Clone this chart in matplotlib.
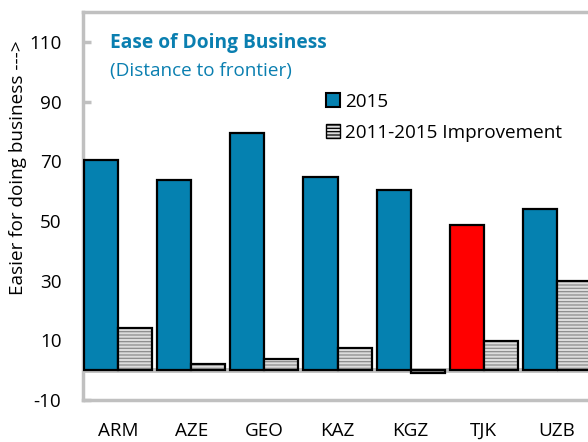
import matplotlib
matplotlib.use("Agg")
import matplotlib.pyplot as plt
import numpy as np
from matplotlib.patches import Patch

categories = ["ARM", "AZE", "GEO", "KAZ", "KGZ", "TJK", "UZB"]
score_2015 = [70.5, 63.8, 79.5, 64.7, 60.5, 48.7, 54.1]
improvement = [14.1, 2.1, 3.6, 7.5, -0.9, 9.9, 29.9]
yticks = [-10, 10, 30, 50, 70, 90, 110]

plt.rcParams['font.family'] = ['Open Sans', 'DejaVu Sans']
plt.rcParams['hatch.linewidth'] = 0.9
plt.rcParams['axes.unicode_minus'] = False

BLUE = "#0581B0"
RED = "#FF0000"
GRID = "#C0C0C0"
FS = 13.6

fig = plt.figure(figsize=(5.88, 4.42), dpi=100)
ax = fig.add_axes([83/588, 1-400/442, (592-83)/588, (400-12)/442])

x = np.arange(len(categories))
w = 0.466
colors = [RED if c == "TJK" else BLUE for c in categories]

ax.bar(x - w/2, score_2015, width=w, color=colors, edgecolor="black", linewidth=1.6, zorder=3)
ax.bar(x + w/2, improvement, width=w, color="#DCDCDC", edgecolor="#8C8C8C", hatch="-----",
       linewidth=0, zorder=3)
ax.bar(x + w/2, improvement, width=w, fill=False, edgecolor="black", linewidth=1.6, zorder=4)

ax.axhline(0, color=GRID, linewidth=3.5, zorder=2)

ax.set_ylim(-10, 120)
ax.set_xlim(-0.48, len(categories) - 0.52)
ax.set_yticks(yticks)
ax.set_xticks(x)
ax.set_xticklabels(categories)
ax.tick_params(axis='x', length=0, pad=16, labelsize=FS)
ax.tick_params(axis='y', direction='in', length=6, width=2.5, color=GRID, labelsize=FS, pad=15.5)

for side in ["left", "top", "bottom", "right"]:
    ax.spines[side].set_color(GRID)
    ax.spines[side].set_linewidth(2.5)
ax.spines["right"].set_visible(False)

fig.text(18/588, 1-168/442, "Easier for doing business --->", rotation=90,
         va="center", ha="center", fontsize=FS)

ax.text(110/588, 1-43/442, "Ease of Doing Business", transform=fig.transFigure,
        color="#0A7FB0", fontsize=13.8, fontweight="bold", va="center", ha="left")
ax.text(110/588, 1-71/442, "(Distance to frontier)", transform=fig.transFigure,
        color="#0A7FB0", fontsize=13.6, va="center", ha="left")

handles = [Patch(facecolor=BLUE, edgecolor="black", linewidth=1.5, label="2015"),
           Patch(facecolor="#DCDCDC", edgecolor="black", hatch="-----", linewidth=1.0,
                 label="2011-2015 Improvement")]
leg = fig.legend(handles=handles, loc="upper left", bbox_to_anchor=(318/588, 1-85/442),
                 frameon=False, fontsize=FS, handlelength=0.75, handleheight=0.75,
                 handletextpad=0.3, labelspacing=0.7, borderaxespad=0)

fig.savefig("out.png", dpi=100)
